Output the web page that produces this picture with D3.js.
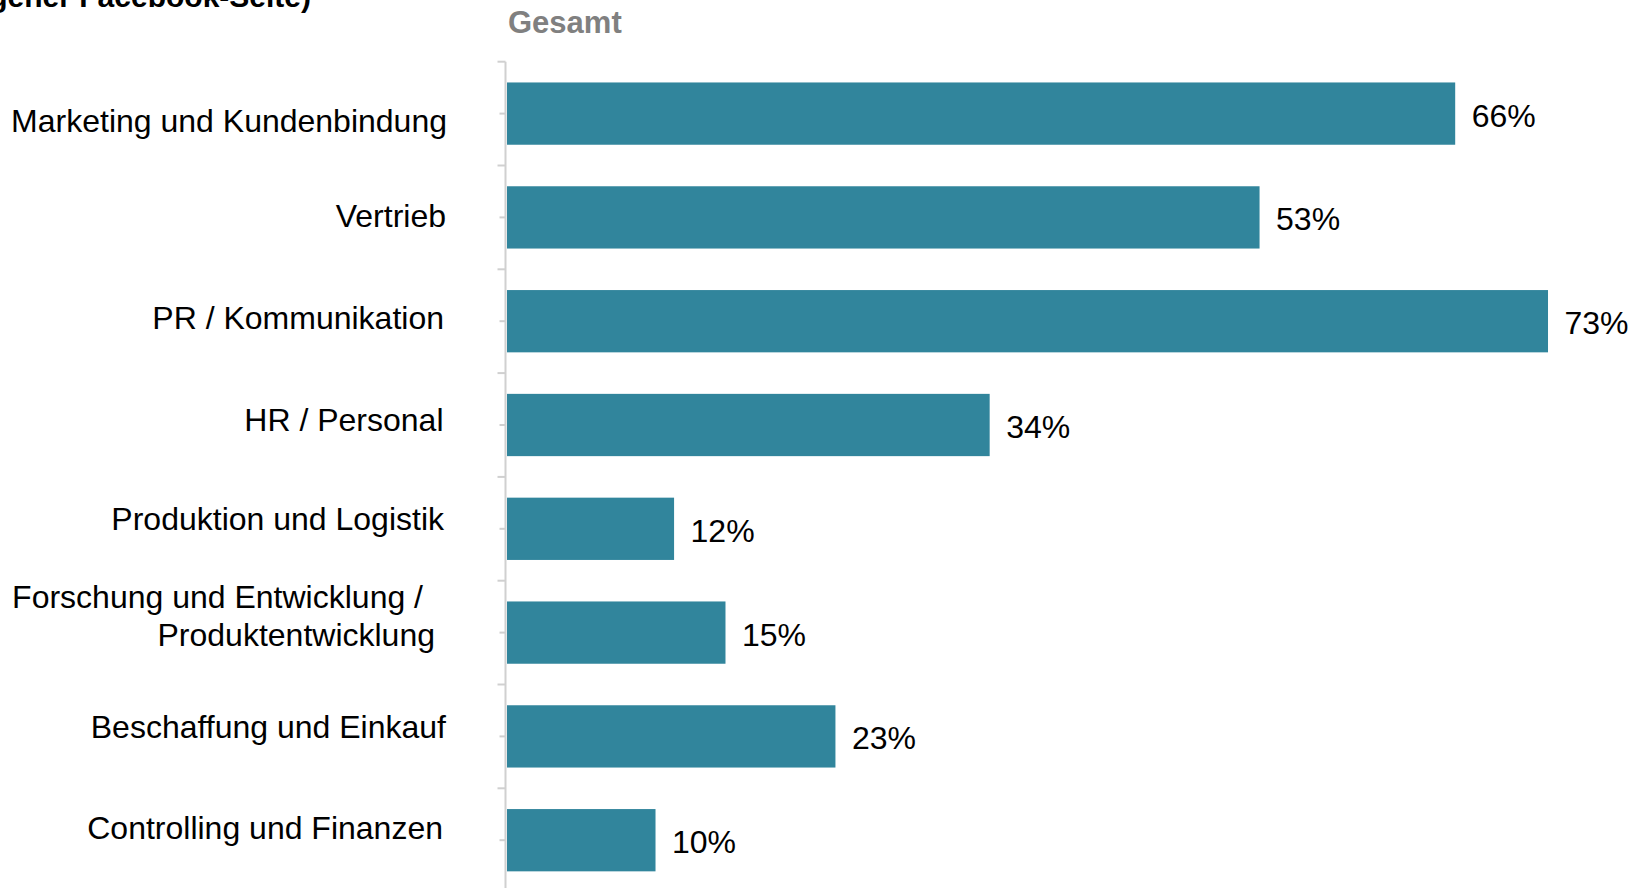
<!DOCTYPE html>
<html>
<head>
<meta charset="utf-8">
<script src="https://cdn.jsdelivr.net/npm/d3@7"></script>
<style>
  body { margin: 0; background: #fff; }
  svg { display: block; font-family: "Liberation Sans", Arial, sans-serif; }
</style>
</head>
<body>
<svg id="chart" width="1648" height="888"></svg>
<script>
// ---- data ----
const categories = [
  "Marketing und Kundenbindung",
  "Vertrieb",
  "PR / Kommunikation",
  "HR / Personal",
  "Produktion und Logistik",
  "Forschung und Entwicklung /\nProduktentwicklung",
  "Beschaffung und Einkauf",
  "Controlling und Finanzen"
];
const values = [66.4, 52.7, 72.9, 33.8, 11.7, 15.3, 23.0, 10.4];
const seriesName = "Gesamt";
const subtitle = "(eigener Facebook-Seite)";

// ---- layout ----
const W = 1648, H = 888;
const barColor = "#31859c";
const axisColor = "#d0d0d0";
const fontSize = 32;
const bandTop = 61.7, bandStep = 103.8;
const labelNudgeY = [7.0, -1.4, -3.0, -5, -9.8, 0, -9.1, -12];
const labelRight = [447, 446, 444, 443.5, 444, 0, 446, 443];

const svg = d3.select("#chart");

const y = d3.scaleBand()
  .domain(categories)
  .range([bandTop, bandTop + bandStep * categories.length])
  .paddingInner(0.4)
  .paddingOuter(0.2);

const x = d3.scaleLinear().domain([0, 100]).range([507, 507 + 1428]);
const fmt = d => d3.format(".0f")(d) + "%";

// subtitle (cut off at top, as in the reference)
svg.append("text")
  .attr("x", 311).attr("y", 6.5)
  .attr("text-anchor", "end")
  .attr("font-weight", "bold")
  .attr("font-size", 30)
  .attr("fill", "#000")
  .text(subtitle);

// series header
svg.append("text")
  .attr("x", 508).attr("y", 32.5)
  .attr("font-weight", "bold")
  .attr("font-size", 31)
  .attr("fill", "#808080")
  .text(seriesName);

// bars
svg.append("g").selectAll("rect")
  .data(values)
  .join("rect")
  .attr("x", x(0))
  .attr("y", (d, i) => y(categories[i]))
  .attr("width", d => x(d) - x(0))
  .attr("height", y.bandwidth())
  .attr("fill", barColor);

// axis: centre ticks via d3.axisLeft
const axisG = svg.append("g")
  .attr("transform", `translate(${x(0) - 1.5},0)`)
  .call(d3.axisLeft(y).tickSize(6).tickFormat(""));
axisG.select(".domain").remove();
axisG.selectAll(".tick line").attr("stroke", axisColor).attr("stroke-width", 2);

// axis line
svg.append("line")
  .attr("x1", x(0) - 1.5).attr("x2", x(0) - 1.5)
  .attr("y1", bandTop).attr("y2", H + 10)
  .attr("stroke", axisColor).attr("stroke-width", 2);

// boundary ticks
const boundaries = d3.range(categories.length + 1).map(i => bandTop + i * y.step());
svg.append("g").selectAll("line")
  .data(boundaries)
  .join("line")
  .attr("x1", x(0) - 9.5).attr("x2", x(0) - 1.5)
  .attr("y1", d => d).attr("y2", d => d)
  .attr("stroke", axisColor).attr("stroke-width", 2);

// category labels
const catG = svg.append("g").attr("font-size", fontSize).attr("fill", "#000");
categories.forEach((c, i) => {
  const cy = y(c) + y.bandwidth() / 2;
  const lines = c.split("\n");
  if (lines.length === 1) {
    catG.append("text")
      .attr("x", labelRight[i]).attr("y", cy + 11 + labelNudgeY[i])
      .attr("text-anchor", "end")
      .text(c);
  } else {
    catG.append("text")
      .attr("x", 423).attr("y", cy - 24.9)
      .attr("text-anchor", "end")
      .text(lines[0]);
    catG.append("text")
      .attr("x", 435).attr("y", cy + 13.4)
      .attr("text-anchor", "end")
      .text(lines[1]);
  }
});

// value labels
svg.append("g").attr("font-size", fontSize).attr("fill", "#000")
  .selectAll("text")
  .data(values)
  .join("text")
  .attr("x", d => x(d) + 16.5)
  .attr("y", (d, i) => y(categories[i]) + y.bandwidth() / 2 + 13)
  .text(fmt);
</script>
</body>
</html>
